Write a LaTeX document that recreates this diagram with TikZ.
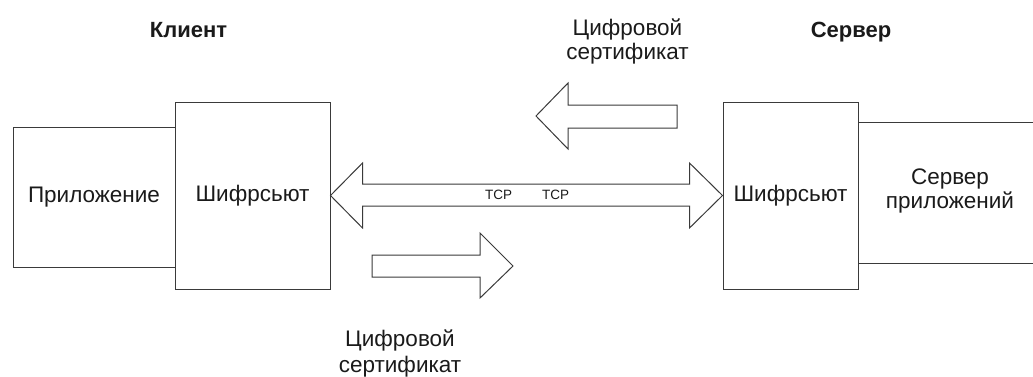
\documentclass[tikz,border=0pt]{standalone}
\usepackage{fontspec}
\setmainfont{Liberation Sans}
\usetikzlibrary{calc}
\definecolor{ln}{HTML}{3A3A3A}
\definecolor{tx}{HTML}{1A1A1A}
\begin{document}
\begin{tikzpicture}[x=1pt,y=-1pt,
  box/.style={draw=ln,line width=1pt,fill=white,inner sep=0pt,text=tx,
    font=\fontsize{22.5}{26}\selectfont,align=center},
  lbl/.style={text=tx,font=\fontsize{22.5}{24}\selectfont,align=center,inner sep=0pt},
  hdr/.style={text=tx,font=\bfseries\fontsize{22}{26}\selectfont,inner sep=0pt},
  blockarrow/.style={draw=ln,line width=1pt,fill=white,line join=miter},
  small/.style={text=tx,font=\fontsize{13.5}{16}\selectfont,inner sep=0pt}]
\useasboundingbox (0,0) rectangle (1033,376);
% boxes
\node[box,minimum width=162pt,minimum height=140pt] (app) at (94,197) {Приложение};
\node[box,minimum width=155pt,minimum height=187pt] (cl) at (252.5,195.5) {Шифрсьют};
\node[box,minimum width=135pt,minimum height=187pt] (cr) at (790.5,195.5) {Шифрсьют};
% application server (open on the right)
\coordinate (srvTR) at (1034,122);
\coordinate (srvBR) at (1034,263);
\draw[ln,line width=1pt] (cr.east |- srvTR) -- (srvTR);
\draw[ln,line width=1pt] (cr.east |- srvBR) -- (srvBR);
\node[lbl,anchor=base] (srv) at (950,208) {Сервер\\приложений};
% double arrow (TCP)
\draw[blockarrow] (cl.east) -- ($(cl.east)+(32,-32.5)$) -- ($(cl.east)+(32,-11.5)$)
  -- ($(cr.west)+(-33,-11.5)$) -- ($(cr.west)+(-33,-32.5)$) -- (cr.west)
  -- ($(cr.west)+(-33,32.5)$) -- ($(cr.west)+(-33,10.5)$)
  -- ($(cl.east)+(32,10.5)$) -- ($(cl.east)+(32,32.5)$) -- cycle;
\node[small,anchor=base] (tcp1) at (498.5,199) {TCP};
\node[small,anchor=base] (tcp2) at (555.5,199) {TCP};
% certificate arrows
\draw[blockarrow] (536,116) -- (568,83) -- (568,105) -- (677,105) -- (677,128)
  -- (568,128) -- (568,149) -- cycle;
\draw[blockarrow] (372,255) -- (480,255) -- (480,233) -- (513,266) -- (480,298)
  -- (480,277) -- (372,277) -- cycle;
% labels
\node[hdr,anchor=base] (client) at (188.5,37) {Клиент};
\node[hdr,anchor=base] (server) at (851,37) {Сервер};
\node[lbl,anchor=base] (certtop) at (627.5,59) {Цифровой\\сертификат};
\node[lbl,anchor=base,font=\fontsize{22.5}{26}\selectfont] (certbot) at (400,372) {Цифровой\\сертификат};
\end{tikzpicture}
\end{document}
